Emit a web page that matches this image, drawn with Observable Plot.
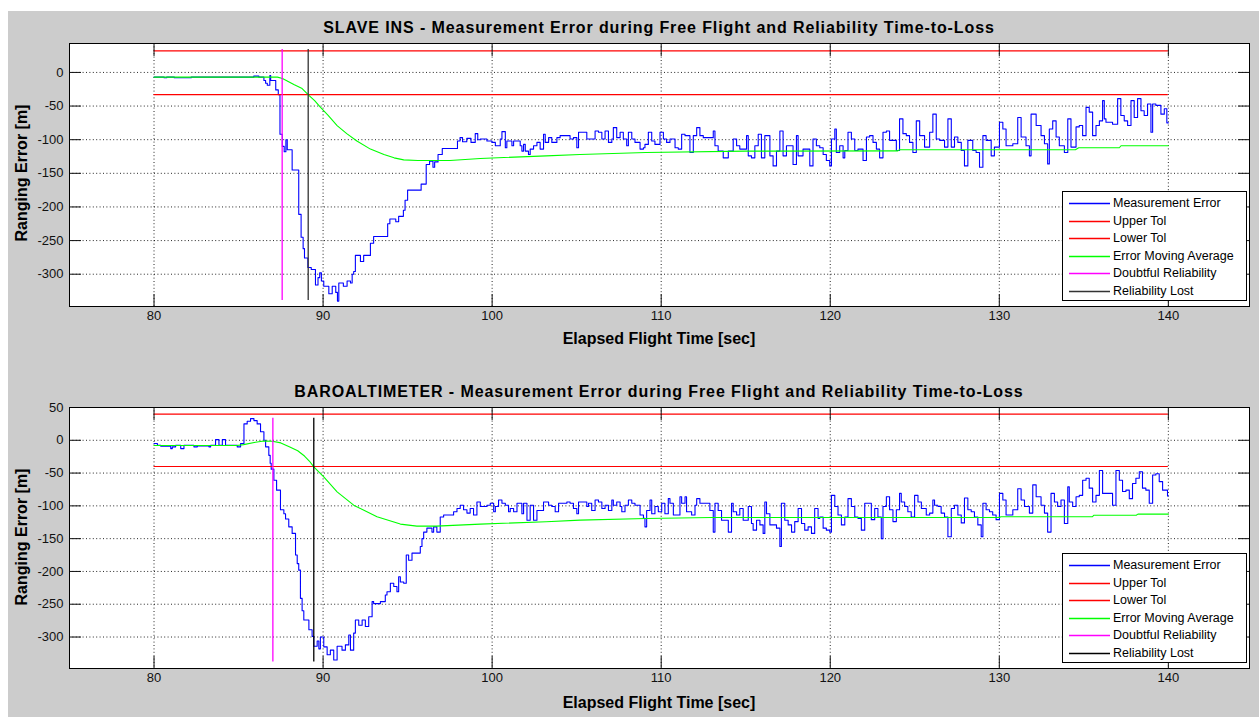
<!DOCTYPE html>
<html><head><meta charset="utf-8">
<script src="https://cdn.jsdelivr.net/npm/d3@7"></script>
<script src="https://cdn.jsdelivr.net/npm/@observablehq/plot@0.6"></script>
<style>
html,body{margin:0;padding:0;background:#fff;}
#page{position:relative;width:1259px;height:717px;overflow:hidden;font-family:"Liberation Sans",Arial,Helvetica,sans-serif;}
#bg{position:absolute;left:8px;top:11px;right:0;bottom:0;background:#cccccc;}
.panel{position:absolute;left:0;}
.txt{position:absolute;left:69px;width:1180px;text-align:center;font-weight:bold;font-size:16px;line-height:16px;color:#000;white-space:nowrap;}
.title{letter-spacing:0.9px;}
.ylabel{position:absolute;font-weight:bold;font-size:16px;line-height:16px;white-space:nowrap;color:#000;transform:translate(-50%,-50%) rotate(-90deg);}
.legend{position:absolute;left:1062px;width:185px;height:110px;background:#fff;border:1px solid #000;box-sizing:border-box;}
.legend .row{position:absolute;left:0;width:100%;height:16px;}
.legend svg{position:absolute;left:6px;top:7px;}
.legend .lb{position:absolute;left:50px;top:0;font-size:12.5px;line-height:16px;color:#000;white-space:nowrap;}
</style>
</head><body>
<div id="page"><div id="bg"></div></div>
<script>
// ---------- data ----------
const xTicks = [80, 90, 100, 110, 120, 130, 140];
const insYTicks = [-300, -250, -200, -150, -100, -50, 0];
const baroYTicks = [-300, -250, -200, -150, -100, -50, 0, 50];
const legendLabels = ["Measurement Error", "Upper Tol", "Lower Tol", "Error Moving Average", "Doubtful Reliability", "Reliability Lost"];
const titles = ["SLAVE INS - Measurement Error during Free Flight and Reliability Time-to-Loss",
                "BAROALTIMETER - Measurement Error during Free Flight and Reliability Time-to-Loss"];
const xLabel = "Elapsed Flight Time [sec]";
const yLabel = "Ranging Error [m]";
const tolSpan = [80, 140];

// SLAVE INS
const insTol = [32, -33];
const insDoubtful = [87.58, 34, -339];
const insLost = [89.12, 34, -339];
const insErr = [[80,-7],[80.6,-8],[80.75,-7],[81.2,-8],[82.2,-7],[85.9,-5.5],[86.2,-7],[86.5,-12],[86.6,-16],[86.7,-19],[86.85,-4.5],[86.9,-12],[87.2,-26],[87.35,-33],[87.45,-92],
[87.59,-110],[87.7,-118],[87.8,-100],[87.88,-115],[88.17,-145],[88.56,-211],[88.7,-245],[88.82,-262],[88.9,-276],[89.1,-290],[89.3,-293],[89.55,-316],[89.7,-305],[89.8,-298],[89.9,-310],[90.04,-318],[90.34,-329],[90.54,-318],[90.75,-327],[90.85,-340],[90.93,-313],[91.2,-318],[91.42,-310],[91.62,-313],[91.72,-300],[91.81,-296],[91.91,-272],[92.21,-281],[92.4,-272],[92.8,-254],[92.99,-244],[93.82,-225],[93.95,-218],[94.3,-222],[94.47,-214],[94.75,-205],[94.85,-190],[95.0,-175],[95.8,-166],[96.1,-137],[96.3,-132],[96.5,-141],[96.6,-133],[96.8,-122],[97.05,-113],[97.95,-102],[98.1,-97],[98.25,-103],[98.5,-98],[98.75,-104],[99.0,-91],[99.15,-100],
[99.30,-99],[99.69,-102],[99.99,-104],[100.19,-109],[100.48,-99],[100.58,-88],[100.78,-112],[100.87,-102],[101.17,-109],[101.27,-102],[101.66,-109],[101.76,-117],[101.86,-107],[101.96,-117],[102.15,-122],[102.25,-114],[102.45,-109],[102.65,-104],[102.84,-114],[103.04,-92],[103.14,-104],[103.34,-97],[103.53,-104],[103.83,-97],[104.02,-94],[104.61,-99],[104.81,-97],[105.01,-112],[105.11,-89],[105.60,-99],[106.09,-87],[106.29,-89],[106.49,-99],[106.68,-87],[106.88,-104],[107.08,-99],[107.17,-82],[107.37,-97],[107.57,-89],[107.76,-99],[107.96,-109],[108.06,-89],[108.26,-99],[108.45,-104],[108.75,-114],[108.95,-112],[109.04,-107],[109.24,-89],[109.44,-102],[109.63,-107],[109.93,-89],[110.13,-99],[110.32,-104],[110.52,-99],[110.82,-112],[111.01,-114],[111.21,-92],[111.41,-94],[111.70,-119],[111.90,-94],[112.10,-82],[112.29,-94],[112.49,-97],[113.08,-87],[113.18,-109],[113.37,-117],[113.67,-127],[113.97,-117],[114.26,-99],[114.46,-109],[114.65,-114],[115.05,-94],[115.15,-124],[115.34,-127],[115.54,-109],[115.74,-92],[115.93,-127],[116.13,-94],[116.43,-124],[116.62,-139],[116.82,-117],[117.02,-87],[117.21,-124],[117.41,-109],[117.80,-137],[118.00,-94],[118.10,-124],[118.39,-114],[118.79,-139],[118.98,-99],[119.18,-109],
[119.38,-112],[119.58,-122],[119.77,-131],[119.97,-139],[120.07,-99],[120.27,-84],[120.36,-119],[120.56,-109],[120.76,-127],[120.86,-116],[121.05,-89],[121.25,-99],[121.45,-116],[121.64,-114],[121.94,-131],[122.14,-96],[122.33,-94],[122.53,-104],[122.73,-114],[122.92,-127],[123.12,-89],[123.32,-87],[123.51,-101],[123.91,-116],[124.10,-69],[124.30,-91],[124.50,-94],[124.69,-104],[124.89,-119],[125.09,-72],[125.29,-94],[125.58,-111],[125.88,-89],[126.07,-62],[126.27,-99],[126.47,-101],[126.76,-111],[126.96,-69],[127.16,-111],[127.35,-96],[127.55,-104],[127.75,-116],[127.94,-139],[128.14,-101],[128.43,-116],[128.63,-119],[128.83,-141],[129.03,-94],[129.22,-101],[129.52,-124],[129.71,-111],[130.01,-74],[130.21,-84],[130.40,-109],[130.80,-106],[131.09,-67],[131.29,-96],[131.58,-109],[131.78,-124],[131.88,-62],[132.18,-79],[132.47,-94],[132.67,-106],[132.86,-136],[132.96,-84],[133.16,-72],[133.36,-96],[133.55,-109],[133.85,-119],[134.05,-69],[134.24,-111],[134.54,-81],[134.73,-79],[134.93,-94],[135.13,-52],[135.32,-59],[135.52,-94],[135.72,-79],[135.92,-72],[136.11,-42],[136.21,-69],[136.31,-74],[136.70,-77],[137.00,-39],[137.19,-64],[137.39,-72],[137.59,-79],[137.79,-42],[137.98,-67],[138.18,-39],[138.38,-57],[138.57,-64],[138.77,-47],[138.97,-89],[139.07,-47],[139.26,-49],[139.56,-62],[139.76,-54],[139.91,-75],[140,-75]];
const insAvg = [[80,-7],[87.3,-7],[87.6,-9],[88.27,-18],[88.76,-24],[89.16,-34],[89.5,-42],[89.85,-52],[90.3,-64],[90.83,-79],[91.4,-91],[92.0,-102],[92.8,-114],[93.6,-122],[94.2,-127],[94.77,-130],[95.6,-131],[97.5,-131],[99.3,-128],[103.2,-124],[105.2,-122],[109.1,-119],[115,-117],[124,-116.6],[124.1,-115],[134.5,-115],[134.7,-112],[137.1,-112],[137.2,-109],[140,-109]];

// BAROALTIMETER
const baroTol = [40, -40];
const baroDoubtful = [87.03, 33.5, -338];
const baroLost = [89.45, 33.5, -338];
const baroErr = [[80.0,-5],[80.2,-7.6],[80.4,-9],[80.99,-12.7],[81.08,-10],[81.28,-7.6],[81.58,-12.7],[81.77,-7.6],[82.36,-10],[82.56,-8.5],[83.25,-10],[83.35,-7.6],[83.64,1],[83.84,-7.6],[84.04,1],[84.23,-7.6],[84.92,-10],[85.12,-5],[85.32,25],[85.51,29],[85.71,33],[85.91,30],[86.10,25],[86.30,13],[86.5,0],[86.6,-10],[86.79,-23],[86.87,-35],[86.93,-44],[87.09,-61],[87.25,-76],[87.48,-106],[87.68,-112],[87.78,-120],[87.97,-132],[88.17,-142],[88.37,-175],[88.47,-188],[88.56,-198],[88.66,-241],[88.76,-260],[88.86,-274],[89.16,-289],[89.35,-299],[89.45,-314],[89.65,-306],[89.75,-318],[89.84,-300],[90.04,-315],[90.24,-327],[90.43,-320],[90.63,-335],[90.83,-314],[91.12,-320],[91.32,-312],[91.52,-297],[91.62,-320],[91.81,-294],[91.91,-274],[92.11,-282],[92.31,-274],[92.50,-284],[92.70,-269],[92.90,-246],[92.99,-249],[93.39,-246],[93.68,-236],[93.78,-231],[93.98,-218],[94.18,-223],[94.37,-231],[94.47,-208],[94.57,-216],[94.77,-218],[94.92,-175],[95.06,-183],[95.26,-172],[95.75,-162],[95.85,-150],[95.95,-140],[96.14,-134],[96.44,-140],[96.54,-132],[96.73,-140],[96.93,-117],[97.13,-114],[97.72,-109],[97.92,-104],[98.11,-99],[98.31,-106],[98.51,-111],[98.70,-104],[98.90,-114],[99.1,-94],
[99.30,-101],[99.69,-99],[99.89,-96],[100.09,-109],[100.19,-101],[100.38,-91],[100.58,-96],[100.78,-99],[100.97,-109],[101.07,-104],[101.27,-109],[101.47,-96],[101.76,-112],[101.86,-96],[102.06,-122],[102.25,-99],[102.45,-122],[102.65,-107],[103.04,-94],[103.34,-99],[103.53,-101],[103.73,-109],[103.93,-96],[104.42,-94],[104.61,-96],[104.81,-104],[105.01,-112],[105.11,-94],[105.60,-101],[105.70,-96],[105.89,-107],[106.09,-91],[106.29,-94],[106.49,-104],[106.68,-99],[106.88,-107],[107.08,-91],[107.17,-99],[107.37,-94],[107.57,-101],[107.67,-109],[107.86,-99],[108.06,-91],[108.26,-96],[108.45,-99],[108.75,-114],[108.95,-119],[109.04,-132],[109.14,-107],[109.34,-91],[109.44,-112],[109.63,-101],[109.83,-109],[110.03,-96],[110.22,-112],[110.42,-89],[110.52,-96],[110.72,-114],[111.11,-86],[111.21,-96],[111.41,-86],[111.50,-109],[111.80,-114],[112.00,-99],[112.10,-89],[112.29,-96],[112.88,-107],[113.08,-140],[113.18,-96],[113.37,-107],[113.57,-122],[113.97,-140],[114.16,-96],[114.26,-109],[114.46,-114],[114.65,-104],[114.85,-122],[115.15,-101],[115.34,-127],[115.44,-137],[115.64,-122],[115.84,-129],[116.03,-142],[116.13,-94],[116.23,-112],[116.43,-129],[116.82,-134],[117.02,-162],[117.11,-96],[117.31,-122],[117.51,-129],[117.71,-140],[117.90,-124],[118.10,-104],[118.30,-127],[118.49,-137],[118.69,-132],[118.89,-142],[119.08,-104],[119.28,-119],
[119.38,-117],[119.58,-134],[119.77,-137],[119.97,-140],[120.07,-84],[120.27,-101],[120.46,-114],[120.66,-129],[120.86,-117],[121.05,-89],[121.25,-101],[121.45,-117],[121.64,-119],[121.84,-137],[122.04,-96],[122.43,-121],[122.63,-104],[122.82,-117],[123.02,-150],[123.12,-101],[123.32,-86],[123.51,-106],[123.71,-124],[123.91,-106],[124.10,-81],[124.20,-94],[124.40,-101],[124.59,-109],[124.79,-117],[124.99,-84],[125.19,-94],[125.39,-104],[125.68,-114],[125.88,-111],[126.07,-91],[126.17,-99],[126.37,-101],[126.56,-111],[126.76,-117],[126.96,-147],[127.16,-104],[127.35,-99],[127.55,-114],[127.75,-126],[127.94,-88],[128.14,-106],[128.34,-109],[128.53,-117],[128.73,-129],[128.93,-147],[129.03,-96],[129.22,-106],[129.42,-109],[129.61,-114],[129.81,-121],[130.01,-81],[130.21,-91],[130.40,-114],[130.80,-106],[131.09,-74],[131.29,-91],[131.49,-101],[131.78,-111],[131.98,-68],[132.18,-86],[132.47,-99],[132.67,-111],[132.86,-140],[133.06,-81],[133.26,-94],[133.45,-101],[133.65,-91],[133.85,-127],[134.05,-71],[134.14,-94],[134.34,-101],[134.54,-86],[134.73,-84],[134.93,-61],[135.13,-58],[135.32,-73],[135.52,-94],[135.72,-84],[135.92,-46],[136.11,-81],[136.70,-99],[136.90,-46],[137.10,-61],[137.29,-78],[137.49,-76],[137.69,-89],[137.88,-66],[138.08,-58],[138.28,-48],[138.47,-73],[138.67,-76],[138.87,-96],[139.07,-53],[139.26,-51],[139.46,-63],[139.66,-76],[139.95,-85],[140,-85]];
const baroAvg = [[80,-8],[84.9,-8],[85.3,-6.6],[86.0,-3],[86.5,-1],[87.0,-1.5],[87.5,-4],[88.0,-10],[88.5,-16],[88.9,-24],[89.2,-32],[89.45,-40.6],[90.04,-55.8],[90.83,-78.6],[91.81,-98.9],[93.19,-116.7],[94.57,-127.8],[95.55,-130.9],[96.7,-130.9],[99.3,-127.8],[103.2,-124.3],[105.2,-121.8],[109.1,-119.2],[113,-117.7],[130,-117.7],[130.1,-116.7],[135.5,-116.7],[135.6,-114.2],[138.1,-114.2],[138.2,-112.6],[140,-112.6]];

// ---------- drawing ----------
const page = document.getElementById("page");
const FONT = '"Liberation Sans", Arial, Helvetica, sans-serif';
const fmt = d => String(d);
const NS = "http://www.w3.org/2000/svg";

function panel(cfg) {
  const err = cfg.err.map(([t, v]) => ({t, v}));
  const avg = cfg.avg.map(([t, v]) => ({t, v}));
  const tol = cfg.tol.map((v, i) => ({v, x1: tolSpan[0], x2: tolSpan[1], k: i}));
  const verts = [cfg.doubtful, cfg.lost].map(([t, y1, y2], i) => ({t, y1, y2, k: i}));
  const svg = Plot.plot({
    width: 1259, height: cfg.height,
    marginLeft: 69, marginRight: 10, marginTop: cfg.mt, marginBottom: cfg.mb,
    style: {background: "transparent", fontFamily: FONT, fontSize: "13px", overflow: "visible", color: "#000"},
    x: {domain: [75, 144.8]},
    y: {domain: cfg.ydomain},
    marks: [
      Plot.frame({fill: "#fff", stroke: null}),
      Plot.gridX({ticks: xTicks, stroke: "#000", strokeOpacity: 0.85, strokeDasharray: "1,2.4"}),
      Plot.gridY({ticks: cfg.yTicks, stroke: "#000", strokeOpacity: 0.85, strokeDasharray: "1,2.4"}),
      Plot.line(err, {x: "t", y: "v", curve: "step-after", stroke: "#0000ff", strokeWidth: 1.1}),
      Plot.ruleY(tol, {y: "v", x1: "x1", x2: "x2", stroke: "#ff0000", strokeWidth: 1.2}),
      Plot.line(avg, {x: "t", y: "v", stroke: "#00ff00", strokeWidth: 1.1}),
      Plot.ruleX(verts, {x: "t", y1: "y1", y2: "y2", stroke: d => d.k === 0 ? "#ff00ff" : cfg.lostColor, strokeWidth: 1.3}),
      Plot.axisX({ticks: xTicks, anchor: "bottom", tickSize: -12, fill: "none", label: null, stroke: "#111"}),
      Plot.axisX({ticks: xTicks, anchor: "top", tickSize: -12, fill: "none", label: null, stroke: "#111"}),
      Plot.axisY({ticks: cfg.yTicks, anchor: "left", tickSize: -12, fill: "none", label: null, stroke: "#111"}),
      Plot.axisY({ticks: cfg.yTicks, anchor: "right", tickSize: -12, fill: "none", label: null, stroke: "#111"}),
      Plot.axisX({ticks: xTicks, anchor: "bottom", tickSize: 0, tickPadding: 4, tickFormat: fmt, label: null, fill: "#111", fontSize: 13}),
      Plot.axisY({ticks: cfg.yTicks, anchor: "left", tickSize: 0, tickPadding: 6, tickFormat: fmt, label: null, fill: "#111", fontSize: 13}),
      Plot.frame({stroke: "#000", strokeWidth: 1})
    ]
  });
  svg.classList.add("panel");
  svg.style.top = cfg.top + "px";
  page.appendChild(svg);

  const t = document.createElement("div");
  t.className = "txt title"; t.textContent = cfg.title; t.style.top = cfg.titleTop + "px";
  page.appendChild(t);
  const xl = document.createElement("div");
  xl.className = "txt"; xl.textContent = xLabel; xl.style.top = cfg.xlTop + "px";
  page.appendChild(xl);
  const yl = document.createElement("div");
  yl.className = "ylabel"; yl.textContent = yLabel;
  yl.style.left = "22px"; yl.style.top = cfg.ylCenter + "px";
  page.appendChild(yl);

  const lg = document.createElement("div");
  lg.className = "legend"; lg.style.top = cfg.legendTop + "px";
  const colors = ["#0000ff", "#ff0000", "#ff0000", "#00ff00", "#ff00ff", cfg.lostColor];
  legendLabels.forEach((lab, i) => {
    const r = document.createElement("div");
    r.className = "row"; r.style.top = Math.round(3 + i * 17.5) + "px";
    const sw = document.createElementNS(NS, "svg");
    sw.setAttribute("width", "41"); sw.setAttribute("height", "3");
    const ln = document.createElementNS(NS, "line");
    ln.setAttribute("x1", "0"); ln.setAttribute("x2", "41");
    ln.setAttribute("y1", "1.5"); ln.setAttribute("y2", "1.5");
    ln.setAttribute("stroke", colors[i]); ln.setAttribute("stroke-width", "1.4");
    sw.appendChild(ln);
    const lb = document.createElement("div"); lb.className = "lb"; lb.textContent = lab;
    r.appendChild(sw); r.appendChild(lb); lg.appendChild(r);
  });
  page.appendChild(lg);
}

panel({top: 0, height: 360, mt: 43, mb: 54, ydomain: [-348, 43], yTicks: insYTicks,
  err: insErr, avg: insAvg, tol: insTol, doubtful: insDoubtful, lost: insLost, lostColor: "#333",
  title: titles[0], titleTop: 20, xlTop: 331, ylCenter: 173, legendTop: 191});
panel({top: 360, height: 357, mt: 47, mb: 49, ydomain: [-348, 50], yTicks: baroYTicks,
  err: baroErr, avg: baroAvg, tol: baroTol, doubtful: baroDoubtful, lost: baroLost, lostColor: "#000",
  title: titles[1], titleTop: 384, xlTop: 695, ylCenter: 537, legendTop: 553});
</script>
</body></html>
